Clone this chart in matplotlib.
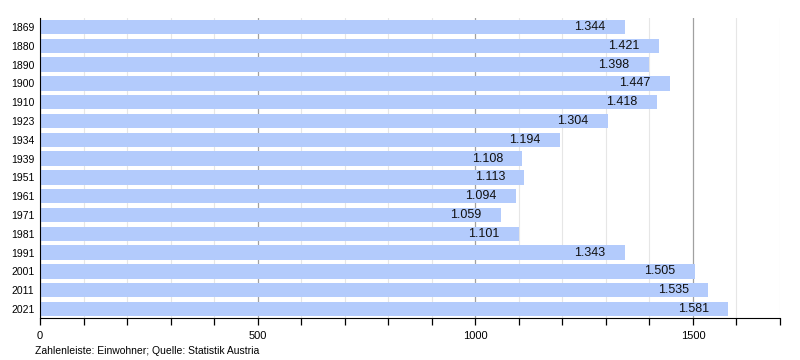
import matplotlib.pyplot as plt
from matplotlib.ticker import MultipleLocator

plt.rcParams['font.family'] = ['Liberation Sans', 'DejaVu Sans']

# Population data (Einwohner)
years = ['1869', '1880', '1890', '1900', '1910', '1923', '1934', '1939',
         '1951', '1961', '1971', '1981', '1991', '2001', '2011', '2021']
population = [1344, 1421, 1398, 1447, 1418, 1304, 1194, 1108,
              1113, 1094, 1059, 1101, 1343, 1505, 1535, 1581]
x_ticks = [0, 500, 1000, 1500]

fig = plt.figure(figsize=(8, 3.6), dpi=100)
ax = fig.add_axes([0.05, 0.1156, 0.925, 0.8354])

pos = list(range(len(years)))
ax.barh(pos, population, height=0.76, color='#b3cbfc', zorder=2)

for p, v in zip(pos, population):
    label = f"{v:,}".replace(',', '.')
    ax.annotate(label, xy=(v, p), xytext=(-14, 0), textcoords='offset points',
                ha='right', va='center', fontsize=9, color='#111111', zorder=3)

ax.set_xlim(0, 1700)
ax.set_ylim(len(years) - 0.5, -0.5)
ax.set_yticks(pos)
ax.set_yticklabels(years, fontsize=7.5)
ax.set_xticks(x_ticks)
ax.set_xticklabels([str(t) for t in x_ticks], fontsize=8)
ax.xaxis.set_minor_locator(MultipleLocator(100))

ax.grid(axis='x', which='major', color='#a0a0a0', linewidth=0.9, zorder=0)
ax.grid(axis='x', which='minor', color='#e6e6e6', linewidth=0.8, zorder=0)

ax.tick_params(axis='y', length=0, pad=4)
ax.tick_params(axis='x', which='both', direction='out', length=5, width=0.9, pad=4)
for s in ['top', 'right']:
    ax.spines[s].set_visible(False)
ax.spines['left'].set_color('black')
ax.spines['bottom'].set_color('black')

fig.text(35 / 800, 1 - 351 / 360, 'Zahlenleiste: Einwohner; Quelle: Statistik Austria',
         fontsize=7.5, ha='left', va='center')

fig.savefig('out.png', dpi=100)
